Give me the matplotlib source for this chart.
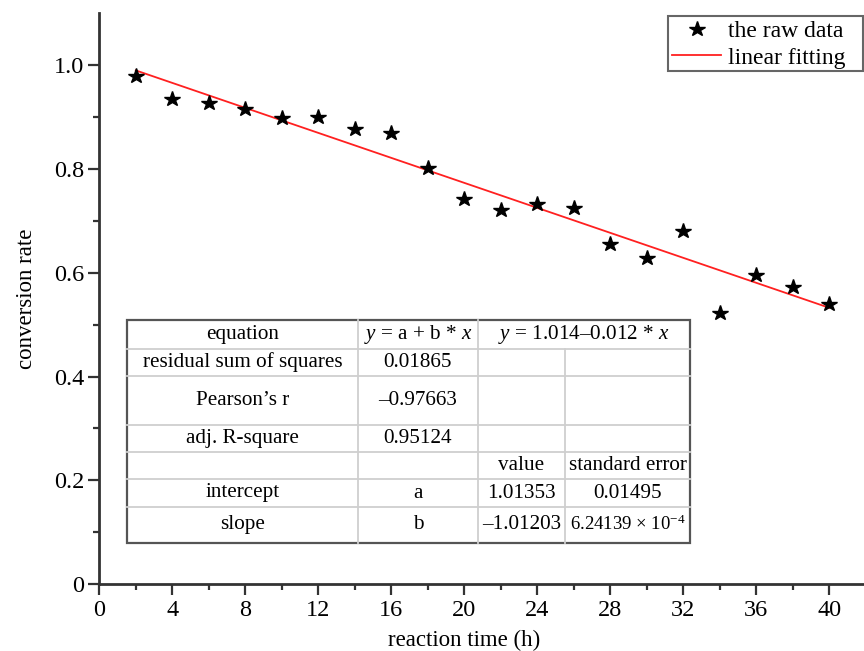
import matplotlib
matplotlib.use("Agg")
import matplotlib.pyplot as plt
from matplotlib.lines import Line2D

# ---------------- data ----------------
time_h = [2, 4, 6, 8, 10, 12, 14, 16, 18, 20, 22, 24, 26, 28, 30, 32, 34, 36, 38, 40]
conversion = [0.978, 0.934, 0.927, 0.915, 0.898, 0.899, 0.877, 0.868, 0.801, 0.742,
              0.720, 0.733, 0.725, 0.655, 0.629, 0.680, 0.523, 0.595, 0.573, 0.539]
fit_intercept = 1.01353
fit_slope = -0.01203
x_ticks = [0, 4, 8, 12, 16, 20, 24, 28, 32, 36, 40]
y_ticks = [0, 0.2, 0.4, 0.6, 0.8, 1.0]
y_tick_labels = ["0", "0.2", "0.4", "0.6", "0.8", "1.0"]

table_rows = [
    ["equation", "$y$ = a + b * $x$", "$y$ = 1.014–0.012 * $x$", None],
    ["residual sum of squares", "0.01865", "", ""],
    ["Pearson’s r", "–0.97663", "", ""],
    ["adj. R-square", "0.95124", "", ""],
    ["", "", "value", "standard error"],
    ["intercept", "a", "1.01353", "0.01495"],
    ["slope", "b", "–1.01203", "6.24139 × 10$^{-4}$"],
]

# ---------------- style ----------------
plt.rcParams["font.family"] = ["Liberation Serif", "DejaVu Serif"]
plt.rcParams["mathtext.fontset"] = "custom"
plt.rcParams["mathtext.rm"] = "Liberation Serif"
plt.rcParams["mathtext.it"] = "Liberation Serif:italic"

W, H = 864, 651
fig = plt.figure(figsize=(W / 100, H / 100), dpi=100)
ax = fig.add_axes([99.3 / W, 1 - 584.3 / H, 1 - 99.3 / W, (584.3 - 13) / H])


def fx(px):
    return px / W


def fy(py):
    return 1 - py / H


spine_c = "#333333"
for s in ["top", "right"]:
    ax.spines[s].set_visible(False)
for s in ["left", "bottom"]:
    ax.spines[s].set_linewidth(2.0)
    ax.spines[s].set_color(spine_c)

xmax = (W - 99.3) / 18.25
ax.set_xlim(0, xmax)
ax.set_ylim(0, 1.1)
ax.set_xticks(x_ticks)
ax.set_xticks([2 + 4 * i for i in range(10)], minor=True)
ax.set_yticks(y_ticks)
ax.set_yticklabels(y_tick_labels)
ax.set_yticks([0.1, 0.3, 0.5, 0.7, 0.9], minor=True)
ax.tick_params(which="major", direction="out", length=8, width=1.6, color=spine_c,
               labelsize=17.5, pad=3)
ax.tick_params(which="minor", direction="out", length=4.5, width=1.6, color=spine_c)

ax.set_xlabel("reaction time (h)", fontsize=16.5)
ax.xaxis.label.set_va("center")
ax.xaxis.set_label_coords(20 / xmax, -(640 - 584.3) / 571.3)
ax.set_ylabel("conversion rate", fontsize=16.5, labelpad=12)

# ---------------- marks ----------------
ax.plot(time_h, conversion, linestyle="none", marker="*", markersize=11.5,
        color="black", label="the raw data", zorder=3)
fit_x = [time_h[0], time_h[-1]]
fit_y = [fit_intercept + fit_slope * t for t in fit_x]
ax.plot(fit_x, fit_y, color="#ff2020", linewidth=1.3, label="linear fitting", zorder=2)

leg = ax.legend(loc="upper right", bbox_to_anchor=(fx(846), fy(20.5)),
                bbox_transform=fig.transFigure, fontsize=17,
                frameon=False, borderpad=0.0, labelspacing=0.22,
                handlelength=2.1, handletextpad=0.3, borderaxespad=0.0)
fig.add_artist(plt.Rectangle((fx(668), fy(71)), fx(863) - fx(668), fy(16) - fy(71),
                             transform=fig.transFigure, fill=False,
                             edgecolor="#666666", linewidth=1.5))

# ---------------- table (figure pixel layout) ----------------
col_x = [127, 358, 478, 565, 690]
row_y = [320, 349, 376, 425, 452.3, 479.3, 506.7, 542.7]

inner_c = "#cfcfcf"
for yy in row_y[1:-1]:
    fig.add_artist(Line2D([fx(col_x[0]), fx(col_x[-1])], [fy(yy), fy(yy)],
                          color=inner_c, linewidth=1.3))
for i, xx in enumerate(col_x[1:-1]):
    top = row_y[0] if i < 2 else row_y[1]
    fig.add_artist(Line2D([fx(xx), fx(xx)], [fy(top), fy(row_y[-1])],
                          color=inner_c, linewidth=1.3))
fig.add_artist(plt.Rectangle((fx(col_x[0]), fy(row_y[-1])),
                             fx(col_x[-1]) - fx(col_x[0]), fy(row_y[0]) - fy(row_y[-1]),
                             transform=fig.transFigure, fill=False,
                             edgecolor="#555555", linewidth=1.6))

for r, row in enumerate(table_rows):
    yc = (row_y[r] + row_y[r + 1]) / 2
    for c, txt in enumerate(row):
        if txt is None or txt == "":
            continue
        if r == 0 and c == 2:
            xc = (col_x[2] + col_x[4]) / 2
        else:
            xc = (col_x[c] + col_x[c + 1]) / 2
        fs = 15.2
        if r == 6 and c == 3:
            fs = 13.5
        fig.text(fx(xc), fy(yc), txt, ha="center", va="center", fontsize=fs)

fig.savefig("out.png", dpi=100)
